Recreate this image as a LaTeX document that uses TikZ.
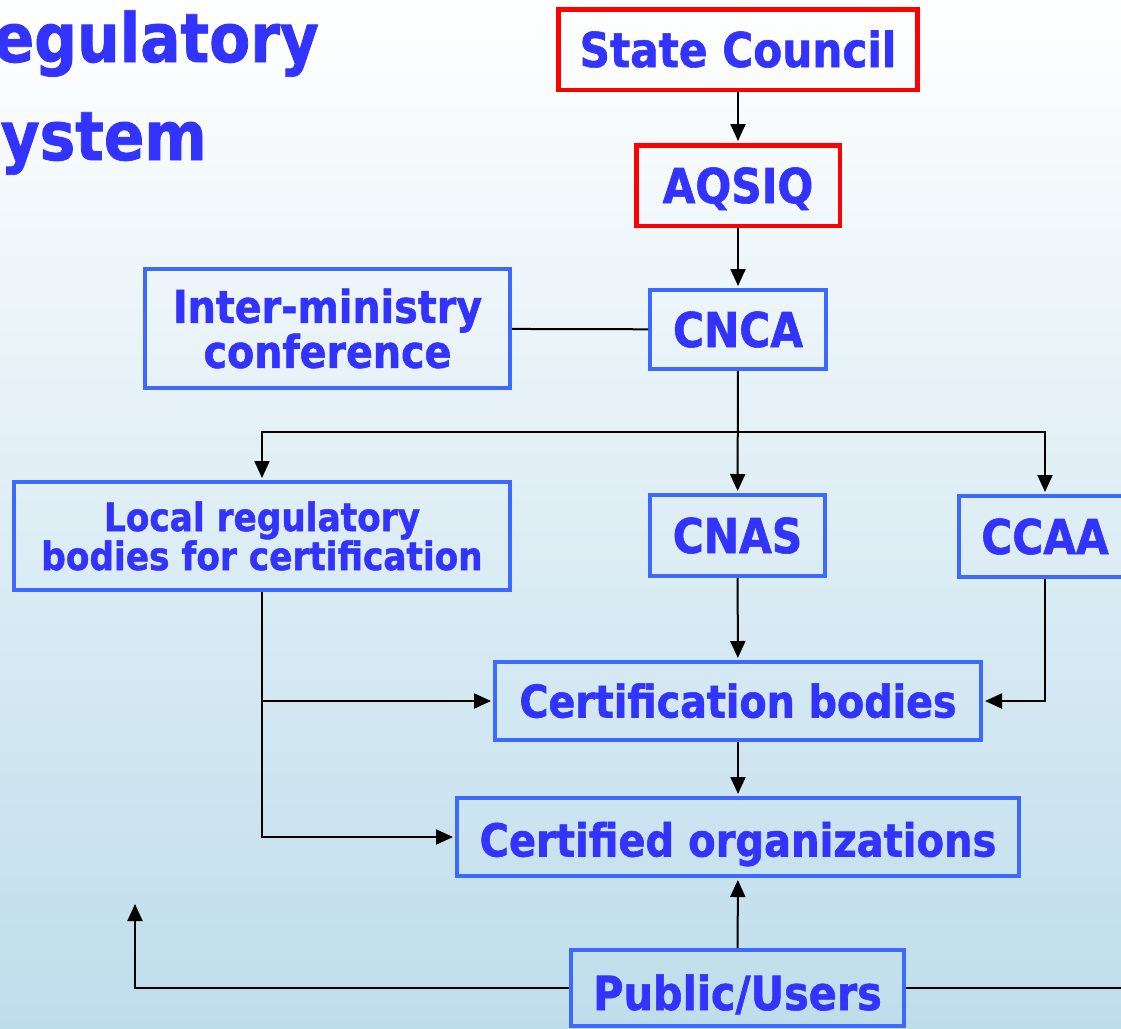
\documentclass[tikz,border=0pt]{standalone}
\usepackage{fontspec}
\setmainfont{DejaVu Sans}[FakeStretch=0.88,BoldFeatures={FakeBold=1.2}]
\usetikzlibrary{arrows.meta}
\definecolor{txtblue}{RGB}{51,51,255}
\definecolor{boxblue}{RGB}{60,105,255}
\definecolor{bgmid}{RGB}{230,242,248}
\definecolor{bgbot}{RGB}{190,221,235}

\begin{document}
\begin{tikzpicture}[x=1pt,y=-1pt,
        box/.style={draw=boxblue,line width=4pt,text=txtblue,align=center,inner sep=0pt},
        redbox/.style={box,draw=red,line width=4.5pt},
        big/.style={font=\bfseries\fontsize{48}{48}\selectfont,text height=35pt,text depth=0pt},
        arr/.style={-{Triangle[length=17pt,width=15pt]},line width=2pt,shorten >=2pt},
        ln/.style={line width=2pt}]
    \useasboundingbox (0,0) rectangle (1121,1028);
    \fill[top color=white,middle color=bgmid,bottom color=bgbot] (0,0) rectangle (1121,1028);
    \clip (0,0) rectangle (1121,1028);
    \node[anchor=base east,inner sep=0pt,text=txtblue,font=\bfseries\fontsize{68}{68}\selectfont] (title1) at (319,62) {egulatory};
    \node[anchor=base east,inner sep=0pt,text=txtblue,font=\bfseries\fontsize{68}{68}\selectfont] (title2) at (207,160) {ystem};
    \node[redbox,big,minimum width=359pt,minimum height=80.5pt] (council) at (738,49.5) {State Council};
    \node[redbox,big,minimum width=203.5pt,minimum height=80.5pt] (aqsiq) at (738,185.5) {AQSIQ};
    \node[box,big,minimum width=176pt,minimum height=79pt] (cnca) at (738,329.5) {CNCA};
    \node[box,font=\bfseries\fontsize{45}{45}\selectfont,minimum width=365pt,minimum height=119pt] (imc) at (327.5,328.5) {Inter-ministry\\conference};
    \node[box,font=\bfseries\fontsize{39}{39}\selectfont,minimum width=496pt,minimum height=108pt] (local) at (262,536) {Local regulatory\\bodies for certification};
    \node[box,big,minimum width=175pt,minimum height=81pt] (cnas) at (737.5,535.5) {CNAS};
    \node[box,big,minimum width=172pt,minimum height=81pt] (ccaa) at (1045,536.5) {CCAA};
    \node[box,font=\bfseries\fontsize{45}{45}\selectfont,text height=33pt,text depth=0pt,minimum width=486pt,minimum height=78pt] (cb) at (738,701) {Certification bodies};
    \node[box,font=\bfseries\fontsize{45.5}{45.5}\selectfont,text height=39pt,text depth=0pt,minimum width=562pt,minimum height=78pt] (co) at (738,837) {Certified organizations};
    \node[box,font=\bfseries\fontsize{47}{47}\selectfont,text height=44pt,text depth=0pt,minimum width=333pt,minimum height=76pt] (pu) at (737.5,988) {Public/Users};
    \coordinate (split) at (738,432);
    \coordinate (fbl) at (135,902);
    \coordinate (fbr) at (1130,988);
    \draw[arr] (council) -- (aqsiq);
    \draw[arr] (aqsiq) -- (cnca);
    \draw[ln] (imc) -- (cnca);
    \draw[arr] (cnca) -- (cnas);
    \draw[arr] (split) -| (local.north);
    \draw[arr] (split) -| (ccaa.north);
    \draw[arr] (cnas) -- (cb);
    \draw[arr] (ccaa.south) |- (cb.east);
    \draw[arr] (local.south) |- (cb.west);
    \draw[arr] (local.south) |- (co.west);
    \draw[arr] (cb) -- (co);
    \draw[arr] (pu) -- (co);
    \draw[arr] (pu.west) -| (fbl);
    \draw[ln] (pu.east) -- (fbr);
\end{tikzpicture}
\end{document}
